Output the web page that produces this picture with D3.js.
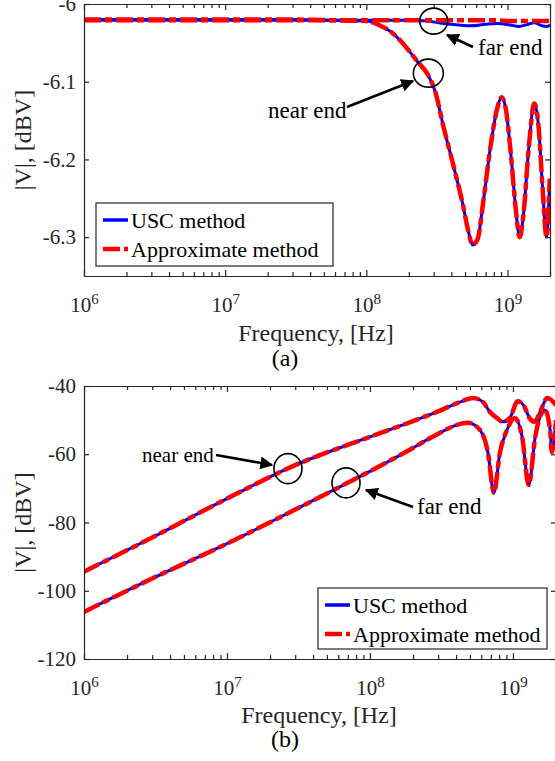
<!DOCTYPE html>
<html>
<head>
<meta charset="utf-8">
<script src="https://cdn.jsdelivr.net/npm/d3@7"></script>
<style>
body { margin: 0; background: #fff; }
text { font-family: "Liberation Serif", "Times New Roman", serif; }
</style>
</head>
<body>
<script>
// ---- data ----
// (a) |V| near/far end, dBV
var freqNearA = [1e6, 3e6, 1e7, 3e7, 6e7, 1e8, 1.26e8, 1.5e8, 1.74e8, 2.0e8, 2.3e8, 2.71e8, 3.08e8, 3.52e8, 4.14e8, 4.8e8, 5.29e8, 5.65e8, 6.13e8, 6.76e8, 7.57e8, 8.49e8, 9.06e8, 9.68e8, 1.05e9, 1.14e9, 1.22e9, 1.3e9, 1.41e9, 1.55e9, 1.66e9, 1.77e9, 1.89e9, 1.99e9];
var nearUscA = [-6.020, -6.020, -6.020, -6.020, -6.021, -6.022, -6.028, -6.036, -6.047, -6.060, -6.074, -6.090, -6.113, -6.158, -6.208, -6.256, -6.293, -6.310, -6.303, -6.252, -6.184, -6.133, -6.120, -6.133, -6.188, -6.261, -6.300, -6.269, -6.188, -6.128, -6.158, -6.235, -6.300, -6.225];
var nearApxA = [-6.020, -6.020, -6.020, -6.020, -6.021, -6.022, -6.028, -6.036, -6.047, -6.060, -6.074, -6.090, -6.113, -6.158, -6.208, -6.256, -6.293, -6.310, -6.303, -6.252, -6.184, -6.133, -6.120, -6.133, -6.188, -6.261, -6.300, -6.269, -6.188, -6.128, -6.158, -6.235, -6.300, -6.225];
var freqFarA = [1e6, 1e7, 1e8, 2e8, 2.7e8, 3.5e8, 4.5e8, 5.5e8, 7e8, 8.5e8, 1.05e9, 1.2e9, 1.4e9, 1.55e9, 1.75e9, 1.9e9, 2e9];
var farUscA = [-6.021, -6.021, -6.021, -6.021, -6.022, -6.025, -6.027, -6.028, -6.026, -6.025, -6.027, -6.029, -6.026, -6.024, -6.028, -6.029, -6.027];
var farApxA = [-6.021, -6.021, -6.021, -6.021, -6.021, -6.021, -6.021, -6.021, -6.021, -6.021, -6.022, -6.022, -6.022, -6.022, -6.022, -6.022, -6.022];

// (b)
var freqNearB = [1e6, 3e6, 1e7, 3e7, 1e8, 2e8, 2.94e8, 4.2e8, 5.25e8, 6.17e8, 6.9e8, 7.73e8, 8.5e8, 9.5e8, 1.08e9, 1.2e9, 1.31e9, 1.42e9, 1.55e9, 1.74e9, 2e9];
var nearUscB = [-94.4, -84.4, -73.0, -63.2, -54.9, -50.3, -47.6, -44.8, -43.5, -44.7, -47.6, -49.4, -50.5, -49.4, -44.5, -46.0, -49.5, -50.5, -47.5, -43.5, -45.6];
var nearApxB = [-94.4, -84.4, -73.0, -63.2, -54.9, -50.3, -47.6, -44.8, -43.5, -44.7, -47.6, -49.4, -50.5, -49.4, -44.5, -46.0, -49.5, -50.5, -47.5, -43.5, -45.6];
var freqFarB = [1e6, 3e6, 1e7, 3e7, 6.8e7, 1e8, 1.7e8, 2.94e8, 4.06e8, 4.84e8, 5.88e8, 6.69e8, 7.36e8, 8.1e8, 9.08e8, 1.03e9, 1.16e9, 1.29e9, 1.43e9, 1.6e9, 1.67e9, 1.82e9, 1.87e9, 2e9];
var farUscB = [-106.2, -96.4, -86.2, -76.2, -68.6, -65.0, -59.8, -54.2, -51.4, -50.8, -52.9, -59.6, -71.3, -59.6, -52.9, -49.4, -55.0, -69.0, -55.0, -47.6, -47.0, -52.9, -59.3, -50.0];
var farApxB = [-106.2, -96.4, -86.2, -76.2, -68.6, -65.0, -59.8, -54.2, -51.4, -50.8, -52.9, -59.6, -71.3, -59.6, -52.9, -49.4, -55.0, -69.0, -55.0, -47.6, -47.0, -52.9, -59.3, -50.0];

var xDomain = [1e6, 2e9];
var xMajor = [1e6, 1e7, 1e8, 1e9];
var xMajorExp = ['6', '7', '8', '9'];
var yTicksA = [-6, -6.1, -6.2, -6.3];
var yLabelsA = ['-6', '-6.1', '-6.2', '-6.3'];
var yTicksB = [-40, -60, -80, -100, -120];
var yLabelsB = ['-40', '-60', '-80', '-100', '-120'];
var legendNames = ['USC method', 'Approximate method'];

var axisColor = '#262626';
var dashPattern = '17,4,7,4';

var svg = d3.select('body').append('svg').attr('width', 555).attr('height', 761);

var defs = svg.append('defs');
defs.append('marker').attr('id', 'head')
	.attr('viewBox', '0 0 10 10').attr('refX', 9).attr('refY', 5)
	.attr('markerWidth', 5).attr('markerHeight', 5).attr('orient', 'auto')
	.append('path').attr('d', 'M0,0 L10,5 L0,10 z').attr('fill', '#000');

// minor ticks for log axis
var xMinor = [];
xMajor.forEach(function(d){
	for (var k = 2; k <= 9; k++) { if (d * k <= xDomain[1]) xMinor.push(d * k); }
});

function drawPanel(id, box, yDomain, yTicks, yLabels, curves, leg, notes, labelY, capY, capText) {
	var x = d3.scaleLog().domain(xDomain).range([box.left, box.right]);
	var y = d3.scaleLinear().domain(yDomain).range([box.bottom, box.top]);
	var g = svg.append('g');

	defs.append('clipPath').attr('id', 'clip' + id).append('rect')
		.attr('x', box.left).attr('y', box.top)
		.attr('width', box.right - box.left).attr('height', box.bottom - box.top);

	var line = d3.line().curve(d3.curveMonotoneX);
	var plot = g.append('g').attr('clip-path', 'url(#clip' + id + ')');
	curves.forEach(function(c){
		var pts = c.f.map(function(f, i){ return [x(f), y(c.v[i])]; });
		plot.append('path').attr('d', line(pts))
			.attr('fill', 'none')
			.attr('stroke', c.dash ? '#ff0000' : '#0000ff')
			.attr('stroke-width', c.dash ? 4.5 : 3)
			.attr('stroke-dasharray', c.dash ? dashPattern : null);
	});

	// axes: bottom with labels, top/right tick only
	var bottom = g.append('g').attr('transform', 'translate(0,' + box.bottom + ')')
		.call(d3.axisBottom(x).tickValues(xMajor).tickSizeInner(-6).tickSizeOuter(0).tickFormat(function(){ return ''; }));
	bottom.selectAll('.tick text').attr('y', 36).attr('dy', null)
		.attr('font-size', 21).attr('fill', axisColor)
		.each(function(d, i){
			var t = d3.select(this);
			t.append('tspan').text('10');
			t.append('tspan').attr('dy', -8).attr('font-size', 15).text(xMajorExp[i]);
		});
	g.append('g').attr('transform', 'translate(0,' + box.bottom + ')')
		.call(d3.axisBottom(x).tickValues(xMinor).tickSizeInner(-4).tickSizeOuter(0).tickFormat(''));
	g.append('g').attr('transform', 'translate(0,' + box.top + ')')
		.call(d3.axisTop(x).tickValues(xMajor).tickSizeInner(-6).tickSizeOuter(0).tickFormat(''));
	g.append('g').attr('transform', 'translate(0,' + box.top + ')')
		.call(d3.axisTop(x).tickValues(xMinor).tickSizeInner(-4).tickSizeOuter(0).tickFormat(''));

	g.append('g').attr('transform', 'translate(' + box.left + ',0)')
		.call(d3.axisLeft(y).tickValues(yTicks).tickSizeInner(-5).tickSizeOuter(0).tickPadding(8)
			.tickFormat(function(d, i){ return yLabels[i]; }))
		.selectAll('.tick text').attr('font-size', 21).attr('fill', axisColor);
	g.append('g').attr('transform', 'translate(' + box.right + ',0)')
		.call(d3.axisRight(y).tickValues(yTicks).tickSizeInner(-5).tickSizeOuter(0).tickFormat(''));

	g.selectAll('.domain, .tick line').attr('stroke', axisColor).attr('stroke-width', 1.2);

	// axis titles
	g.append('text').text('Frequency, [Hz]')
		.attr('x', (box.left + box.right) / 2 - 1).attr('y', labelY)
		.attr('text-anchor', 'middle').attr('font-size', 24).attr('fill', axisColor);
	g.append('text').text('|V|, [dBV]')
		.attr('transform', 'translate(31,' + (box.top + box.bottom) / 2 + ') rotate(-90)')
		.attr('text-anchor', 'middle').attr('font-size', 24).attr('fill', axisColor);
	g.append('text').text(capText)
		.attr('x', 285).attr('y', capY)
		.attr('text-anchor', 'middle').attr('font-size', 24).attr('fill', '#000');

	// legend
	g.append('rect').attr('x', leg.x).attr('y', leg.y).attr('width', leg.w).attr('height', leg.h)
		.attr('fill', '#fff').attr('stroke', axisColor).attr('stroke-width', 1.2);
	legendNames.forEach(function(name, i){
		var ly = leg.y + 17 + i * 29;
		g.append('line').attr('x1', leg.x + 7).attr('x2', leg.x + 32).attr('y1', ly).attr('y2', ly)
			.attr('stroke', i ? '#ff0000' : '#0000ff').attr('stroke-width', i ? 4.5 : 3.5)
			.attr('stroke-dasharray', i ? dashPattern : null);
		g.append('text').text(name).attr('x', leg.x + 35).attr('y', ly + 8)
			.attr('font-size', 22).attr('fill', '#000');
	});

	// annotations: circle, arrow, label
	notes.forEach(function(n){
		g.append('ellipse').attr('cx', x(n.f)).attr('cy', y(n.v)).attr('rx', n.rx).attr('ry', n.ry)
			.attr('fill', 'none').attr('stroke', '#000').attr('stroke-width', 1.6);
		g.append('line').attr('x1', n.ax).attr('y1', n.ay).attr('x2', n.bx).attr('y2', n.by)
			.attr('stroke', '#000').attr('stroke-width', 2.6).attr('marker-end', 'url(#head)');
		g.append('text').text(n.text).attr('x', n.tx).attr('y', n.ty)
			.attr('font-size', n.size).attr('fill', '#000');
	});
}

drawPanel('a', {left: 84, top: 4, right: 550, bottom: 276}, [-6.35, -6], yTicksA, yLabelsA,
	[
		{f: freqNearA, v: nearUscA},
		{f: freqFarA, v: farUscA},
		{f: freqNearA, v: nearApxA, dash: true},
		{f: freqFarA, v: farApxA, dash: true}
	],
	{x: 96, y: 203, w: 237, h: 63},
	[
		{text: 'near end', size: 23, f: 2.75e8, v: -6.089, rx: 15, ry: 14, tx: 268, ty: 118, ax: 347, ay: 107, bx: 413, by: 81},
		{text: 'far end', size: 23, f: 3.0e8, v: -6.022, rx: 14, ry: 13, tx: 478, ty: 55, ax: 473, ay: 47, bx: 447, by: 35}
	],
	341, 366, '(a)');

drawPanel('b', {left: 84, top: 386, right: 556, bottom: 659}, [-120, -40], yTicksB, yLabelsB,
	[
		{f: freqNearB, v: nearUscB},
		{f: freqFarB, v: farUscB},
		{f: freqNearB, v: nearApxB, dash: true},
		{f: freqFarB, v: farApxB, dash: true}
	],
	{x: 318, y: 588, w: 229, h: 61},
	[
		{text: 'near end', size: 21, f: 2.67e7, v: -64.2, rx: 14, ry: 15, tx: 142, ty: 462, ax: 216, ay: 455, bx: 272, by: 465},
		{text: 'far end', size: 23, f: 6.8e7, v: -68.4, rx: 14, ry: 15, tx: 417, ty: 514, ax: 413, ay: 507, bx: 366, by: 490}
	],
	723, 747, '(b)');
</script>
</body>
</html>
